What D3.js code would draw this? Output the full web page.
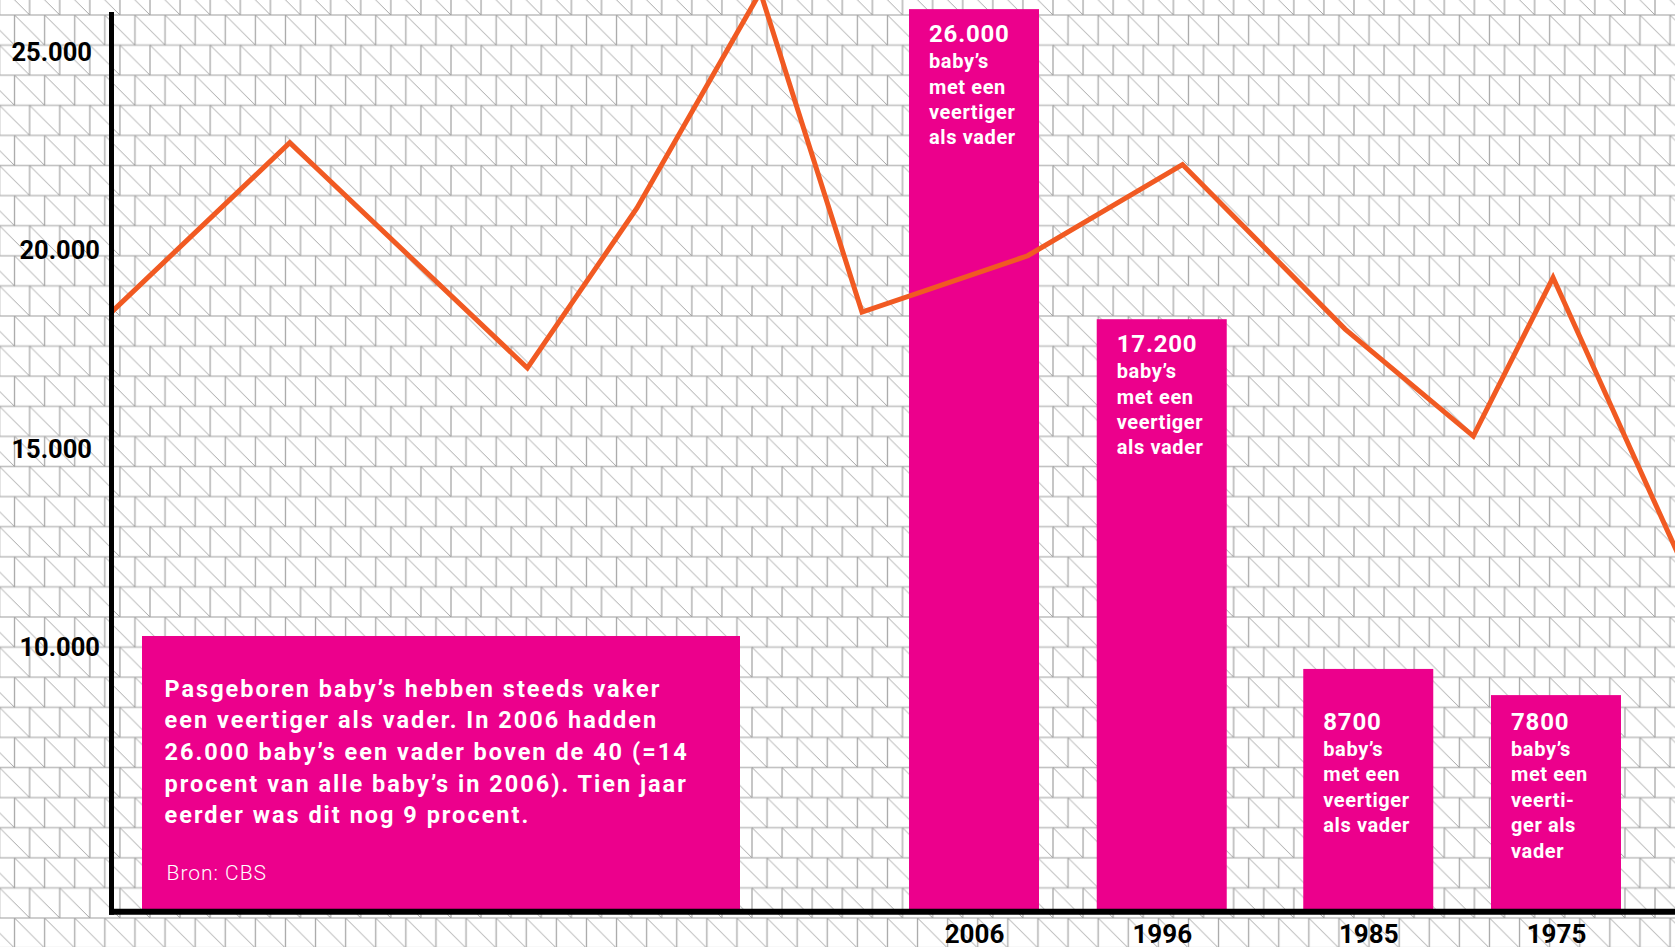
<!DOCTYPE html>
<html>
<head>
<meta charset="utf-8">
<script src="https://cdn.jsdelivr.net/npm/d3@7"></script>
<style>
	html, body { margin: 0; padding: 0; background: #fff; }
	svg { display: block; font-family: Roboto, "Noto Sans", sans-serif; }
</style>
</head>
<body>
<svg id="chart"></svg>
<script>
// y axis ticks (Dutch thousands separator)
const yTicks = [10000, 15000, 20000, 25000];

// bars: year, the number printed in the bar, and where the bar top sits against the y axis
const years = [2006, 1996, 1985, 1975];
const babies = [26000, 17200, 8700, 7800];
const barTops = [26070, 18250, 9430, 8770];
const barText = [
	['baby’s', 'met een', 'veertiger', 'als vader'],
	['baby’s', 'met een', 'veertiger', 'als vader'],
	['baby’s', 'met een', 'veertiger', 'als vader'],
	['baby’s', 'met een', 'veerti-', 'ger als', 'vader']
];

// orange line: position along the plot (0-100) and value on the y axis
const linePos = [0, 11.4, 26.6, 33.6, 41.5, 48.0, 58.6, 68.5, 78.9, 87.1, 92.2, 101.6];
const lineValues = [18430, 22700, 17020, 21050, 26500, 18430, 19850, 22150, 18000, 15300, 19300, 11100];

// text block
const intro = [
	'Pasgeboren baby’s hebben steeds vaker',
	'een veertiger als vader. In 2006 hadden',
	'26.000 baby’s een vader boven de 40 (=14',
	'procent van alle baby’s in 2006). Tien jaar',
	'eerder was dit nog 9 procent.'
];
const source = 'Bron: CBS';

const W = 1675, H = 947;
const pink = '#ec008c', orange = '#f15a22';
const axisX = 111.5, axisY = 911.7;

const nl = d3.formatLocale({decimal: ',', thousands: '.', grouping: [3], currency: ['€', '']});
const fmt = nl.format(',');

const svg = d3.select('#chart').attr('width', W).attr('height', H);

// background tiles: square cells with a diagonal, every other row shifted half a cell
const cell = 30.1;
const pat = svg.append('defs').append('pattern')
	.attr('id', 'tiles')
	.attr('patternUnits', 'userSpaceOnUse')
	.attr('x', -0.5).attr('y', 15)
	.attr('width', cell).attr('height', cell * 2);

[0, cell, cell * 2].forEach(y => {
	pat.append('line').attr('x1', 0).attr('x2', cell).attr('y1', y).attr('y2', y)
		.attr('stroke', '#c2c2c2').attr('stroke-width', 1.6);
});
pat.append('line').attr('x1', cell / 2).attr('x2', cell / 2).attr('y1', 0).attr('y2', cell)
	.attr('stroke', '#a8a8a8').attr('stroke-width', 1.3);
[0, cell].forEach(x => {
	pat.append('line').attr('x1', x).attr('x2', x).attr('y1', cell).attr('y2', cell * 2)
		.attr('stroke', '#a8a8a8').attr('stroke-width', 1.3);
});
[[cell / 2, 0], [-cell / 2, 0], [0, cell]].forEach(p => {
	pat.append('line').attr('x1', p[0]).attr('y1', p[1]).attr('x2', p[0] + cell).attr('y2', p[1] + cell)
		.attr('stroke', '#9c9c9c').attr('stroke-width', 0.9);
});

svg.append('rect').attr('width', W).attr('height', H).attr('fill', '#fff');
svg.append('rect').attr('width', W).attr('height', H).attr('fill', 'url(#tiles)');

// scales
const y = d3.scaleLinear().domain([3300, 26300]).range([912, 0]);
const xYear = d3.scaleLinear().domain([2006, 1975]).range([974, 1556]);
const xLine = d3.scaleLinear().domain([0, 100]).range([axisX, W]);
const barWidth = 130;
const shortLabelBase = 730;// short bars share one baseline for their number

// text block
const box = svg.append('g').attr('class', 'intro');
box.append('rect')
	.attr('x', 142).attr('y', 636)
	.attr('width', 598).attr('height', axisY - 636)
	.attr('fill', pink);
box.selectAll('text.line')
	.data(intro)
	.enter()
	.append('text')
	.attr('class', 'line')
	.attr('x', 164.5)
	.attr('y', (d, i) => 696.7 + i * 31.6)
	.attr('fill', '#fff')
	.attr('font-size', 23.5)
	.attr('font-weight', 700)
	.attr('letter-spacing', 2)
	.text(d => d);
box.append('text')
	.attr('x', 166.5).attr('y', 879.5)
	.attr('fill', '#fff')
	.attr('font-size', 21)
	.attr('font-weight', 300)
	.attr('letter-spacing', 1)
	.text(source);

// bars
const bars = svg.append('g').attr('class', 'bars')
	.selectAll('g')
	.data(years)
	.enter()
	.append('g')
	.attr('transform', d => 'translate(' + (xYear(d) - barWidth / 2) + ',0)');

bars.append('rect')
	.attr('y', (d, i) => y(barTops[i]))
	.attr('width', barWidth)
	.attr('height', (d, i) => axisY - y(barTops[i]))
	.attr('fill', pink);

bars.each(function(d, i) {
	let g = d3.select(this),
		top = y(barTops[i]),
		base = top + 33 > shortLabelBase - 100 ? shortLabelBase : top + 33;

	g.append('text')
		.attr('x', 20).attr('y', base)
		.attr('fill', '#fff')
		.attr('font-size', 24)
		.attr('font-weight', 700)
		.attr('letter-spacing', 0.8)
		.text(fmt(babies[i]).replace(/^(\d)\.(\d{3})$/, '$1$2'));

	g.selectAll('text.sub')
		.data(barText[i])
		.enter()
		.append('text')
		.attr('class', 'sub')
		.attr('x', 20)
		.attr('y', (t, j) => base + 26 + j * 25.4)
		.attr('fill', '#fff')
		.attr('font-size', 20)
		.attr('font-weight', 700)
		.attr('letter-spacing', 0.6)
		.text(t => t);
});

// orange line
const line = d3.line()
	.x((d, i) => xLine(linePos[i]))
	.y(d => y(d));

svg.append('path')
	.datum(lineValues)
	.attr('d', line)
	.attr('fill', 'none')
	.attr('stroke', orange)
	.attr('stroke-width', 5)
	.attr('stroke-linejoin', 'miter');

// axes
const yAxis = d3.axisLeft(y)
	.tickValues(yTicks)
	.tickSize(0)
	.tickFormat(fmt);

svg.append('g')
	.attr('class', 'axis axis--y')
	.attr('transform', 'translate(' + axisX + ',0)')
	.call(yAxis)
	.call(g => g.select('.domain').remove())
	.selectAll('text')
	.attr('x', d => (d / 5000) % 2 ? -19.5 : -11.5)
	.attr('dy', '0.36em')
	.attr('fill', '#000')
	.attr('font-size', 25.5)
	.attr('font-weight', 700)
	.attr('font-family', 'Roboto, sans-serif');

svg.append('line')
	.attr('x1', axisX).attr('x2', axisX)
	.attr('y1', y(26000)).attr('y2', axisY + 3)
	.attr('stroke', '#000').attr('stroke-width', 5);

const xAxis = d3.axisBottom(xYear)
	.tickValues(years)
	.tickSize(0)
	.tickPadding(12.5)
	.tickFormat(d => String(d));

svg.append('g')
	.attr('class', 'axis axis--x')
	.attr('transform', 'translate(0,' + axisY + ')')
	.call(xAxis)
	.call(g => g.select('.domain').remove())
	.selectAll('text')
	.attr('fill', '#000')
	.attr('font-size', 26)
	.attr('font-weight', 700)
	.attr('font-family', 'Roboto, sans-serif');

svg.append('line')
	.attr('x1', axisX - 2.5).attr('x2', W)
	.attr('y1', axisY).attr('y2', axisY)
	.attr('stroke', '#000').attr('stroke-width', 6);
</script>
</body>
</html>
